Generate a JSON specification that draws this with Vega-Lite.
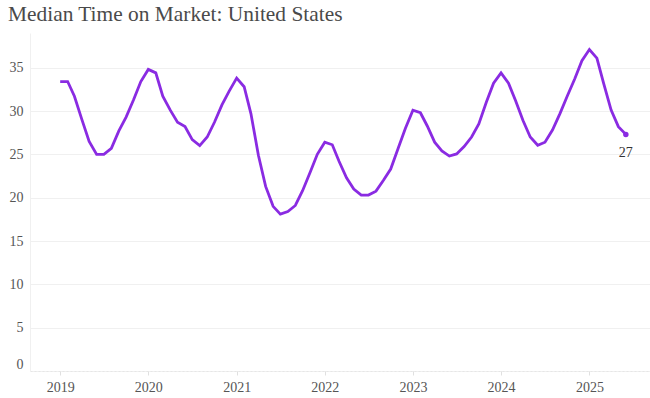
{
  "$schema": "https://vega.github.io/schema/vega-lite/v6.json",
  "width": 620,
  "height": 338,
  "autosize": "none",
  "padding": {"left": 30, "top": 33, "right": 0, "bottom": 27},
  "background": "white",
  "title": {
    "text": "Median Time on Market: United States",
    "anchor": "start",
    "frame": "group",
    "dx": -22,
    "offset": 8,
    "font": "Liberation Serif",
    "fontSize": 21.4,
    "fontWeight": "normal",
    "color": "#4a4a4a"
  },
  "config": {
    "view": {"stroke": null},
    "axis": {"labelFont": "Liberation Serif", "labelFontSize": 14, "labelColor": "#555555"}
  },
  "data": {
    "values": [
      {"date": "2019-01-01", "value": 33.4},
      {"date": "2019-02-01", "value": 33.4},
      {"date": "2019-03-01", "value": 31.7},
      {"date": "2019-04-01", "value": 29.0},
      {"date": "2019-05-01", "value": 26.5},
      {"date": "2019-06-01", "value": 25.0},
      {"date": "2019-07-01", "value": 25.0},
      {"date": "2019-08-01", "value": 25.7},
      {"date": "2019-09-01", "value": 27.7},
      {"date": "2019-10-01", "value": 29.3},
      {"date": "2019-11-01", "value": 31.3},
      {"date": "2019-12-01", "value": 33.4},
      {"date": "2020-01-01", "value": 34.8},
      {"date": "2020-02-01", "value": 34.4},
      {"date": "2020-03-01", "value": 31.7},
      {"date": "2020-04-01", "value": 30.1},
      {"date": "2020-05-01", "value": 28.7},
      {"date": "2020-06-01", "value": 28.2},
      {"date": "2020-07-01", "value": 26.7},
      {"date": "2020-08-01", "value": 26.0},
      {"date": "2020-09-01", "value": 27.0},
      {"date": "2020-10-01", "value": 28.7},
      {"date": "2020-11-01", "value": 30.7},
      {"date": "2020-12-01", "value": 32.3},
      {"date": "2021-01-01", "value": 33.8},
      {"date": "2021-02-01", "value": 32.8},
      {"date": "2021-03-01", "value": 29.7},
      {"date": "2021-04-01", "value": 24.9},
      {"date": "2021-05-01", "value": 21.3},
      {"date": "2021-06-01", "value": 19.0},
      {"date": "2021-07-01", "value": 18.1},
      {"date": "2021-08-01", "value": 18.4},
      {"date": "2021-09-01", "value": 19.1},
      {"date": "2021-10-01", "value": 20.8},
      {"date": "2021-11-01", "value": 22.9},
      {"date": "2021-12-01", "value": 25.0},
      {"date": "2022-01-01", "value": 26.4},
      {"date": "2022-02-01", "value": 26.1},
      {"date": "2022-03-01", "value": 24.2},
      {"date": "2022-04-01", "value": 22.3},
      {"date": "2022-05-01", "value": 21.0},
      {"date": "2022-06-01", "value": 20.3},
      {"date": "2022-07-01", "value": 20.3},
      {"date": "2022-08-01", "value": 20.75},
      {"date": "2022-09-01", "value": 22.0},
      {"date": "2022-10-01", "value": 23.3},
      {"date": "2022-11-01", "value": 25.7},
      {"date": "2022-12-01", "value": 28.0},
      {"date": "2023-01-01", "value": 30.1},
      {"date": "2023-02-01", "value": 29.8},
      {"date": "2023-03-01", "value": 28.3},
      {"date": "2023-04-01", "value": 26.4},
      {"date": "2023-05-01", "value": 25.4},
      {"date": "2023-06-01", "value": 24.8},
      {"date": "2023-07-01", "value": 25.05},
      {"date": "2023-08-01", "value": 25.9},
      {"date": "2023-09-01", "value": 27.0},
      {"date": "2023-10-01", "value": 28.5},
      {"date": "2023-11-01", "value": 31.0},
      {"date": "2023-12-01", "value": 33.2},
      {"date": "2024-01-01", "value": 34.4},
      {"date": "2024-02-01", "value": 33.2},
      {"date": "2024-03-01", "value": 31.2},
      {"date": "2024-04-01", "value": 28.9},
      {"date": "2024-05-01", "value": 27.0},
      {"date": "2024-06-01", "value": 26.05},
      {"date": "2024-07-01", "value": 26.4},
      {"date": "2024-08-01", "value": 27.8},
      {"date": "2024-09-01", "value": 29.7},
      {"date": "2024-10-01", "value": 31.7},
      {"date": "2024-11-01", "value": 33.7},
      {"date": "2024-12-01", "value": 35.8},
      {"date": "2025-01-01", "value": 37.1},
      {"date": "2025-02-01", "value": 36.1},
      {"date": "2025-03-01", "value": 33.2},
      {"date": "2025-04-01", "value": 30.1},
      {"date": "2025-05-01", "value": 28.2},
      {"date": "2025-06-01", "value": 27.3}
    ]
  },
  "encoding": {
    "x": {
      "field": "date",
      "type": "temporal",
      "scale": {"domain": ["2018-08-29", "2025-09-09"]},
      "axis": {
        "title": null,
        "format": "%Y",
        "tickCount": {"interval": "year", "step": 1},
        "grid": false,
        "labelFont": "Liberation Serif",
        "labelFontSize": 14,
        "labelColor": "#555555",
        "domainColor": "#e6e6e6",
        "domainDash": [2, 2],
        "tickColor": "#e0e0e0",
        "tickSize": 4,
        "labelPadding": 5
      }
    },
    "y": {
      "field": "value",
      "type": "quantitative",
      "scale": {"domain": [0, 39], "nice": false},
      "axis": {
        "title": null,
        "values": [0, 5, 10, 15, 20, 25, 30, 35],
        "labelFont": "Liberation Serif",
        "labelFontSize": 14,
        "labelColor": "#555555",
        "gridColor": "#f0f0f0",
        "domain": true,
        "domainColor": "#f0f0f0",
        "ticks": false,
        "labelPadding": 7,
        "labelFlush": true
      }
    }
  },
  "layer": [
    {
      "mark": {"type": "line", "color": "#8a2be2", "strokeWidth": 2.8, "interpolate": "linear"}
    },
    {
      "transform": [{"filter": "year(datum.date) == 2025 && month(datum.date) == 5"}],
      "mark": {"type": "point", "filled": true, "color": "#8a2be2", "size": 30, "opacity": 1}
    },
    {
      "transform": [{"filter": "year(datum.date) == 2025 && month(datum.date) == 5"}],
      "mark": {"type": "text", "font": "Liberation Serif", "fontSize": 14, "color": "#333333", "baseline": "top", "dy": 12},
      "encoding": {"text": {"field": "value", "type": "quantitative", "format": ".0f"}}
    }
  ]
}
